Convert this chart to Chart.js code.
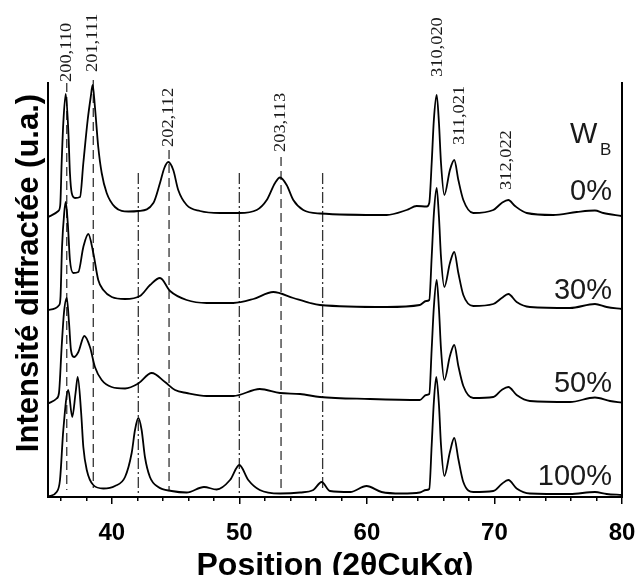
<!DOCTYPE html>
<html>
<head>
<meta charset="utf-8">
<script src="https://cdn.jsdelivr.net/npm/chart.js@4/dist/chart.umd.min.js"></script>
<style>
html, body { margin: 0; padding: 0; background: #fff; }
canvas { display: block; }
</style>
</head>
<body>
<canvas id="xrd" width="638" height="575"></canvas>
<script>
// Diffractogrammes (intensité empilée, u.a.)
const pos0 = [35.02, 35.81, 35.96, 36.07, 36.2, 36.39, 36.59, 36.72, 36.86, 37.12, 37.51, 37.77, 38.11, 38.35, 38.5, 38.68, 38.94, 39.21, 39.6, 40.25, 41.3, 42.08, 43.26, 43.78, 44.12, 44.43, 44.82, 45.21, 45.87, 46.92, 48.48, 50.0, 51.36, 52.15, 52.8, 53.19, 53.71, 54.23, 55.01, 56.32, 61.55, 63.12, 63.9, 64.69, 64.89, 65.08, 65.25, 65.47, 65.65, 65.81, 66.07, 66.51, 66.85, 67.17, 67.56, 68.34, 69.91, 70.57, 71.09, 71.61, 72.53, 74.61, 76.45, 77.88, 78.53, 79.98];
const int0 = [280, 286, 292, 334, 374, 403, 367, 324, 304, 299, 300, 334, 377, 400, 412, 390, 350, 324, 304, 290, 285.5, 286, 294, 314, 329, 335, 327, 307, 292, 286, 284, 284, 287, 297, 314, 319.5, 312, 297, 287, 283.5, 282, 287, 291, 290.5, 294, 334, 377, 402, 374, 334, 302, 327, 337, 317, 297, 284, 287, 294, 297, 291, 284, 282, 285, 286.5, 284, 281];

const pos30 = [35.02, 35.88, 35.98, 36.1, 36.27, 36.39, 36.55, 36.72, 36.98, 37.38, 37.77, 38.16, 38.55, 38.94, 39.34, 40.0, 41.04, 42.21, 43.0, 43.78, 44.57, 45.87, 47.44, 49.53, 51.1, 52.66, 54.23, 55.54, 56.32, 61.55, 64.15, 64.64, 64.89, 65.08, 65.25, 65.47, 65.65, 65.81, 66.07, 66.51, 66.85, 67.17, 67.56, 68.34, 69.91, 70.57, 71.09, 71.74, 72.78, 75.92, 77.88, 78.8, 79.98];
const int30 = [187, 192, 200, 250, 284, 295, 274, 237, 224, 225, 250, 263, 244, 217, 207, 200, 198, 201, 212, 219, 206, 197, 194, 194, 198, 205, 199, 194, 192, 190, 192, 196, 197, 240, 283, 309, 280, 240, 210, 234, 245, 224, 202, 191, 193, 199, 203, 195, 190, 189, 193, 190, 188];

const pos50 = [35.02, 35.68, 35.86, 36.07, 36.25, 36.47, 36.65, 36.8, 37.04, 37.38, 37.85, 38.29, 38.68, 39.21, 39.99, 41.04, 42.08, 43.13, 44.17, 44.96, 45.87, 47.44, 49.53, 51.6, 53.19, 54.76, 56.32, 60.24, 64.15, 64.64, 64.89, 65.08, 65.25, 65.47, 65.65, 65.81, 66.07, 66.51, 66.85, 67.17, 67.56, 68.34, 69.91, 70.57, 71.09, 71.74, 72.78, 75.92, 77.88, 79.06, 79.98];
const int50 = [93.5, 98.5, 104, 150, 184, 199, 174, 147, 140, 145, 161, 150, 130, 117, 110, 108.5, 113.5, 124, 115, 107, 104, 101, 101, 108, 104, 103, 100, 98, 97, 102, 103, 148, 190, 217, 188, 148, 117, 141, 152, 131, 111, 99, 100, 107, 110, 102, 96, 95, 99.5, 96, 94.5];

const pos100 = [35.02, 35.68, 35.94, 36.2, 36.59, 36.9, 37.17, 37.33, 37.6, 37.77, 38.04, 38.55, 39.34, 40.25, 41.04, 41.56, 41.82, 42.08, 42.34, 42.6, 42.99, 43.64, 44.69, 45.87, 47.23, 48.22, 49.27, 50.0, 50.7, 51.6, 53.19, 54.76, 55.8, 56.45, 57.1, 58.7, 59.97, 61.15, 62.72, 64.15, 64.64, 64.89, 65.08, 65.25, 65.44, 65.65, 65.81, 66.07, 66.51, 66.85, 67.17, 67.56, 68.34, 69.91, 70.57, 71.09, 71.74, 72.78, 75.92, 77.88, 78.8, 79.98];
const int100 = [0.5, 5, 17, 67, 107, 80, 105, 120, 84, 50, 27, 12, 8.5, 11, 20, 44, 67, 79, 67, 40, 20, 10, 6, 4.5, 10, 7.5, 17, 32, 17, 7, 3.5, 4.5, 7, 15, 6, 5, 11, 5, 3.5, 4.5, 7, 8, 52, 95, 120, 92, 52, 21, 45, 59, 38, 15, 5, 6, 13, 17, 8.5, 3.5, 3, 5, 3, 2];

// Lignes de référence verticales
const refPos = [36.47, 38.55, 42.08, 44.49, 50.0, 53.27, 56.53];
const refKind = ['dash', 'dash', 'dashdot', 'dash', 'dashdot', 'dash', 'dashdot'];
const refTop = [414, 417, 324, 347, 324, 340, 324];
const refBottom = [7, 9, 4, 7, 4, 4, 7];

// Indices hkl
const hklText = ['200,110', '201,111', '202,112', '203,113', '310,020', '311,021', '312,022'];
const hklPos = [36.47, 38.55, 44.49, 53.27, 65.55, 67.3, 70.96];
const hklBase = [415, 425, 350, 345, 420, 352, 307];

// Teneurs W_B
const wbText = ['0%', '30%', '50%', '100%'];
const wbBase = [297, 198, 105, 12];

const xMajor = [40, 50, 60, 70, 80];
const xMinor = [36, 38, 42, 44, 46, 48, 52, 54, 56, 58, 62, 64, 66, 68, 72, 74, 76, 78];

const yTitle = 'Intensité diffractée (u.a.)';

const SANS = '"Liberation Sans", Arial, sans-serif';
const SERIF = '"Liberation Serif", "Times New Roman", serif';

const toPoints = (xs, ys) => xs.map((v, i) => ({ x: v, y: ys[i] }));

const curveSet = (xs, ys) => ({
    data: toPoints(xs, ys),
    borderColor: '#000',
    borderWidth: 1.8,
    pointRadius: 0,
    fill: false,
    cubicInterpolationMode: 'monotone',
    clip: false
});

const refSets = refPos.map((p, i) => ({
    data: [{ x: p, y: refTop[i] }, { x: p, y: refBottom[i] }],
    borderColor: '#333',
    borderWidth: 1.3,
    borderDash: refKind[i] === 'dash' ? [9, 5] : [11, 3, 2, 3],
    pointRadius: 0,
    fill: false,
    clip: false
}));

const noSidePadding = (s) => { s.paddingLeft = 0; s.paddingRight = 0; };

const textPlugin = {
    id: 'xrdText',
    afterDraw(chart) {
        const { ctx, scales: { x, y } } = chart;
        ctx.save();

        // titre de l'axe vertical (un peu au-dessus du centre, comme sur l'original)
        ctx.fillStyle = '#000';
        ctx.font = 'bold 31px ' + SANS;
        ctx.textAlign = 'center';
        ctx.textBaseline = 'middle';
        ctx.save();
        ctx.translate(29, y.getPixelForValue(224));
        ctx.rotate(-Math.PI / 2);
        ctx.fillText(yTitle, 0, 0);
        ctx.restore();

        ctx.fillStyle = '#1a1a1a';

        // hkl, texte vertical
        ctx.font = '16px ' + SERIF;
        ctx.textAlign = 'left';
        ctx.textBaseline = 'middle';
        hklText.forEach((t, i) => {
            ctx.save();
            ctx.translate(x.getPixelForValue(hklPos[i]), y.getPixelForValue(hklBase[i]));
            ctx.rotate(-Math.PI / 2);
            ctx.scale(1.15, 1);
            ctx.fillText(t, 0, 0);
            ctx.restore();
        });

        // pourcentages
        ctx.font = '29px ' + SANS;
        ctx.textAlign = 'right';
        ctx.textBaseline = 'alphabetic';
        wbText.forEach((t, i) => {
            ctx.fillText(t, x.getPixelForValue(79.21), y.getPixelForValue(wbBase[i]));
        });

        // W_B
        ctx.textAlign = 'left';
        ctx.fillText('W', x.getPixelForValue(75.92), y.getPixelForValue(354));
        ctx.font = '17px ' + SANS;
        ctx.fillText('B', x.getPixelForValue(78.27), y.getPixelForValue(342));
        ctx.restore();
    }
};

new Chart(document.getElementById('xrd'), {
    type: 'line',
    data: {
        datasets: [
            curveSet(pos0, int0),
            curveSet(pos30, int30),
            curveSet(pos50, int50),
            curveSet(pos100, int100),
            ...refSets
        ]
    },
    options: {
        responsive: false,
        animation: false,
        layout: { padding: { top: 83, right: 16, left: 0, bottom: 0 } },
        plugins: {
            legend: { display: false },
            tooltip: { enabled: false }
        },
        scales: {
            x: {
                type: 'linear',
                position: 'bottom',
                weight: 1,
                min: 35,
                max: 80,
                afterBuildTicks: (s) => { s.ticks = xMajor.map(v => ({ value: v })); },
                afterFit: (s) => { s.height = 78; noSidePadding(s); },
                ticks: {
                    autoSkip: false,
                    maxRotation: 0,
                    padding: 15,
                    color: '#000',
                    font: { family: SANS, size: 24, weight: 'bold' }
                },
                grid: {
                    drawOnChartArea: false,
                    drawTicks: true,
                    tickLength: 7,
                    color: '#000',
                    lineWidth: 1.5
                },
                border: { display: true, color: '#000', width: 2 },
                title: {
                    display: true,
                    text: 'Position (2θCuKα)',
                    color: '#000',
                    font: { family: SANS, size: 32, weight: 'bold' },
                    padding: { top: 0, bottom: -10 }
                }
            },
            xMinor: {
                type: 'linear',
                position: 'bottom',
                weight: 0,
                min: 35,
                max: 80,
                afterBuildTicks: (s) => { s.ticks = xMinor.map(v => ({ value: v })); },
                afterFit: (s) => { s.height = 0; noSidePadding(s); },
                ticks: { display: false },
                grid: {
                    drawOnChartArea: false,
                    drawTicks: true,
                    tickLength: 4,
                    color: '#000',
                    lineWidth: 1.5
                },
                border: { display: false }
            },
            y: {
                type: 'linear',
                position: 'left',
                min: 0,
                max: 414,
                afterFit: (s) => { s.width = 48; },
                ticks: { display: false },
                grid: { display: false },
                border: { display: true, color: '#000', width: 2 }
            },
            yR: {
                type: 'linear',
                position: 'right',
                min: 0,
                max: 1,
                afterFit: (s) => { s.width = 0; },
                ticks: { display: false },
                grid: { display: false },
                border: { display: true, color: '#000', width: 2 }
            }
        }
    },
    plugins: [textPlugin]
});
</script>
</body>
</html>
